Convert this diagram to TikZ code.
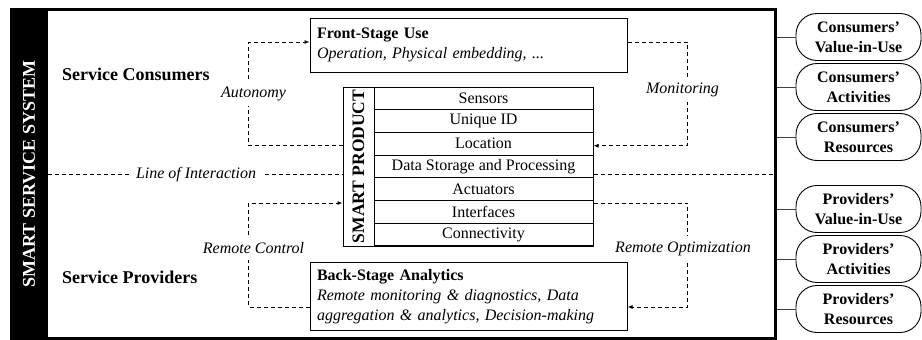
\documentclass[tikz,border=0pt]{standalone}
\usepackage{fontspec}
\setmainfont{Liberation Serif}
\usetikzlibrary{arrows.meta,calc}
\begin{document}
\begin{tikzpicture}[x=1pt,y=-1pt,
  dsh/.style={draw, line width=0.9pt, dash pattern=on 4pt off 3pt, -{Latex[length=5pt,width=4pt]}},
  loiline/.style={draw, line width=0.9pt, dash pattern=on 4pt off 3pt},
  lbl/.style={fill=white, inner sep=3pt, font=\fontsize{16}{20}\selectfont\itshape},
  stagebox/.style={draw, fill=white, line width=1pt, text width=303pt, inner sep=7pt, align=left, font=\fontsize{16}{20}\selectfont},
  rowbox/.style={draw, fill=white, line width=1pt, minimum width=219pt, minimum height=22.7pt, inner sep=0pt, font=\fontsize{16}{20}\selectfont},
  capsule/.style={draw, fill=white, line width=0.9pt, rounded corners=21pt, minimum width=125pt, minimum height=47pt, inner sep=0pt, align=center, font=\fontsize{16}{20}\selectfont\bfseries},
  role/.style={anchor=base west, inner sep=0pt, font=\fontsize{18}{21}\selectfont\bfseries},
  link/.style={draw, line width=0.8pt, black!75}
]
\useasboundingbox (0,0) rectangle (922,340);
% system frame
\node[draw, line width=3pt, minimum width=763.5pt, minimum height=329pt, inner sep=0pt] (sys) at (393.25,174) {};
\node[fill=black, text=white, rotate=90, minimum width=332pt, minimum height=38pt, inner sep=0pt,
      font=\fontsize{18}{21}\selectfont\bfseries] (band) at (29,174) {SMART SERVICE SYSTEM};
% roles
\node[role] (cons) at (62,80) {Service Consumers};
\node[role] (prov) at (62,283) {Service Providers};
% line of interaction
\coordinate (loiL) at (48,174.5);
\coordinate (loiR) at (775,174.5);
\draw[loiline] (loiL) -- (loiR);
\node[lbl, inner xsep=6pt] (loi) at (196,175) {Line of Interaction};
% stage boxes
\node[stagebox, minimum height=54pt] (fs) at (468.5,45) {\textbf{Front-Stage Use}\\\textit{Operation, Physical embedding, ...}};
\node[stagebox, minimum height=67pt] (bs) at (468.5,296.5) {\textbf{Back-Stage Analytics}\\\textit{Remote monitoring \& diagnostics, Data}\\\textit{aggregation \& analytics, Decision-making}};
% smart product
\node[draw, fill=white, line width=1pt, minimum width=250pt, minimum height=159pt, inner sep=0pt] (prod) at (468,166.5) {};
\node[rowbox] (r1) at (483.5,98.35) {Sensors};
\node[rowbox] (r2) at (483.5,121.05) {Unique ID};
\node[rowbox] (r3) at (483.5,143.75) {Location};
\node[rowbox] (r4) at (483.5,166.45) {Data Storage and Processing};
\node[rowbox] (r5) at (483.5,189.15) {Actuators};
\node[rowbox] (r6) at (483.5,211.85) {Interfaces};
\node[rowbox] (r7) at (483.5,234.55) {Connectivity};
\node[rotate=90, inner sep=0pt, font=\fontsize{17.5}{20}\selectfont\bfseries] (spl) at (358.5,166.5) {SMART PRODUCT};
% loops
\draw[dsh] ($(prod.west|-r3)+(0,2)$) -- ++(-94,0) |- node[pos=0.25, lbl, inner ysep=5pt, xshift=5pt] (auto) {Autonomy} ($(fs.west)+(0,-3)$);
\draw[dsh] ($(fs.east)+(0,-3)$) -- ++(60,0) |- node[pos=0.23, lbl, inner ysep=5pt, xshift=-5pt] (moni) {Monitoring} ($(prod.east|-r3)+(0,2)$);
\draw[dsh] ($(bs.west)+(0,10.5)$) -- ++(-61,0) |- node[pos=0.284, lbl, inner ysep=6pt, xshift=5pt] (rc) {Remote Control} ($(prod.west|-r6.north)+(0,3)$);
\draw[dsh] ($(prod.east|-r6.north)+(0,3)$) -- ++(94,0) |- node[pos=0.22, lbl, inner ysep=6pt, xshift=-4.5pt] (ro) {Remote Optimization} ($(bs.east)+(0,10.5)$);
% capsules
\node[capsule] (c1) at (858.5,37) {Consumers’\\Value-in-Use};
\node[capsule] (c2) at (858.5,87) {Consumers’\\Activities};
\node[capsule] (c3) at (858.5,137) {Consumers’\\Resources};
\node[capsule] (p1) at (858.5,209) {Providers’\\Value-in-Use};
\node[capsule] (p2) at (858.5,259) {Providers’\\Activities};
\node[capsule] (p3) at (858.5,309) {Providers’\\Resources};
\foreach \c in {c1,c2,c3,p1,p2,p3}{
  \draw[link] (sys.east|-\c.west) -- (\c.west);
}
\end{tikzpicture}
\end{document}
